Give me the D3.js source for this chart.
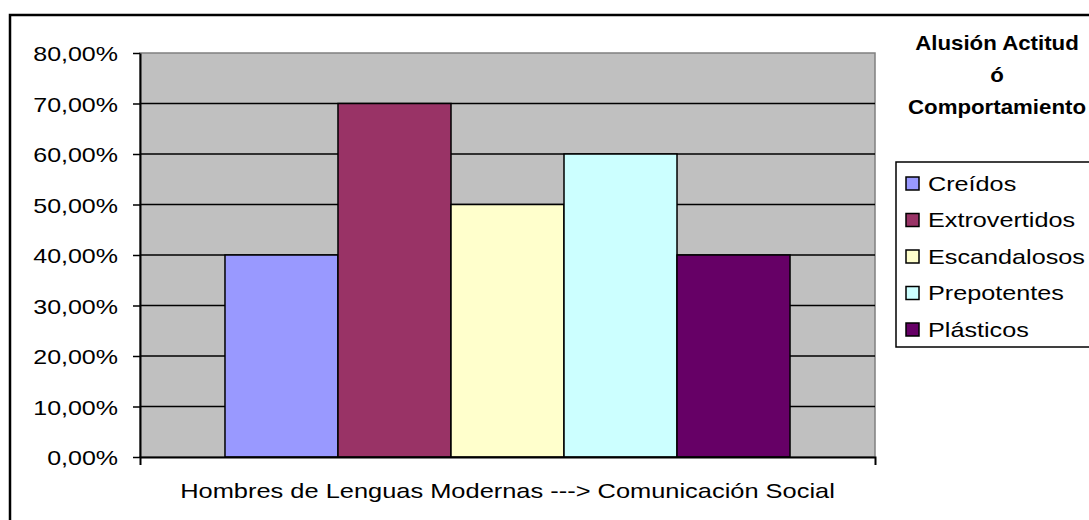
<!DOCTYPE html>
<html>
<head>
<meta charset="utf-8">
<script src="https://cdn.jsdelivr.net/npm/d3@7"></script>
<style>
  body { margin: 0; background: #fff; }
  text { font-family: "Liberation Sans", Arial, sans-serif; }
</style>
</head>
<body>
<div id="chart"></div>
<script>
var category = "Hombres de Lenguas Modernas ---> Comunicación Social";
var series = ["Creídos", "Extrovertidos", "Escandalosos", "Prepotentes", "Plásticos"];
var values = [0.40, 0.70, 0.50, 0.60, 0.40];
var colors = ["#9999FF", "#993366", "#FFFFCC", "#CCFFFF", "#660066"];
var yTicks = [0, 0.1, 0.2, 0.3, 0.4, 0.5, 0.6, 0.7, 0.8];
var yLabels = ["0,00%", "10,00%", "20,00%", "30,00%", "40,00%", "50,00%", "60,00%", "70,00%", "80,00%"];
var legendTitle = ["Alusión Actitud", "ó", "Comportamiento"];

var width = 1089, height = 520;
var plot = {left: 140, right: 875, top: 53, bottom: 457};

var svg = d3.select("#chart").append("svg")
    .attr("width", width)
    .attr("height", height);

// the original text is drawn a bit wider than Arial, so stretch it
function stretch(sel, f) {
    sel.each(function() {
        var w = this.getComputedTextLength();
        d3.select(this)
            .attr("textLength", w * f)
            .attr("lengthAdjust", "spacingAndGlyphs");
    });
}

// outer chart border (runs off the right and bottom edges)
svg.append("rect")
    .attr("x", 10).attr("y", 15)
    .attr("width", 1100).attr("height", 520)
    .attr("fill", "#fff")
    .attr("stroke", "#000")
    .attr("stroke-width", 2.5);

var y = d3.scaleLinear().domain([0, 0.8]).range([plot.bottom, plot.top]);

var x0 = d3.scaleBand().domain([category]).range([plot.left, plot.right]);

var x = d3.scaleBand()
    .domain(series)
    .range([plot.left, plot.right])
    .paddingInner(0)
    .paddingOuter(0.752);

// plot background
svg.append("rect")
    .attr("x", plot.left).attr("y", plot.top)
    .attr("width", plot.right - plot.left)
    .attr("height", plot.bottom - plot.top)
    .attr("fill", "#C0C0C0")
    .attr("stroke", "#808080")
    .attr("stroke-width", 1.5);

// gridlines
svg.selectAll("line.grid")
    .data(yTicks.filter(function(d) { return d > 0 && d < 0.8; }))
    .enter().append("line")
    .attr("class", "grid")
    .attr("x1", plot.left).attr("x2", plot.right)
    .attr("y1", function(d) { return y(d); })
    .attr("y2", function(d) { return y(d); })
    .attr("stroke", "#000")
    .attr("stroke-width", 1.5);

// bars
svg.selectAll("rect.bar")
    .data(values)
    .enter().append("rect")
    .attr("class", "bar")
    .attr("x", function(d, i) { return x(series[i]); })
    .attr("y", function(d) { return y(d); })
    .attr("width", x.bandwidth())
    .attr("height", function(d) { return y(0) - y(d); })
    .attr("fill", function(d, i) { return colors[i]; })
    .attr("stroke", "#000")
    .attr("stroke-width", 1.5);

// y axis
var yAxis = svg.append("g")
    .attr("transform", "translate(" + plot.left + ",0)")
    .call(d3.axisLeft(y)
        .tickValues(yTicks)
        .tickFormat(function(d, i) { return yLabels[i]; })
        .tickSize(7)
        .tickSizeOuter(0)
        .tickPadding(15));
yAxis.select(".domain").attr("stroke", "#000").attr("stroke-width", 2);
yAxis.selectAll(".tick line").attr("stroke", "#000").attr("stroke-width", 1.5);
yAxis.selectAll(".tick text")
    .attr("fill", "#000")
    .style("font-size", "21px")
    .attr("dy", "0.36em")
    .call(stretch, 1.19);

// x axis
var xAxis = svg.append("g")
    .attr("transform", "translate(0," + plot.bottom + ")")
    .call(d3.axisBottom(x0).tickSize(0).tickSizeOuter(8).tickPadding(26));
xAxis.select(".domain").attr("stroke", "#000").attr("stroke-width", 2);
xAxis.selectAll(".tick text")
    .attr("fill", "#000")
    .style("font-size", "21px")
    .call(stretch, 1.21);

// legend title
svg.selectAll("text.ltitle")
    .data(legendTitle)
    .enter().append("text")
    .attr("class", "ltitle")
    .attr("x", 997)
    .attr("y", function(d, i) { return 50 + i * 32; })
    .attr("text-anchor", "middle")
    .style("font-size", "21px")
    .style("font-weight", "bold")
    .text(function(d) { return d; })
    .call(stretch, 1.06);

// legend
var legend = svg.append("g");
legend.append("rect")
    .attr("x", 896).attr("y", 162)
    .attr("width", 220).attr("height", 185)
    .attr("fill", "#fff")
    .attr("stroke", "#000")
    .attr("stroke-width", 1.5);

var items = legend.selectAll("g.item")
    .data(series)
    .enter().append("g")
    .attr("class", "item")
    .attr("transform", function(d, i) { return "translate(906," + (183 + i * 36.5) + ")"; });

items.append("rect")
    .attr("x", 0).attr("y", -6)
    .attr("width", 13).attr("height", 13)
    .attr("fill", function(d, i) { return colors[i]; })
    .attr("stroke", "#000")
    .attr("stroke-width", 1.5);

items.append("text")
    .attr("x", 22).attr("y", 7.5)
    .style("font-size", "21px")
    .text(function(d) { return d; })
    .call(stretch, 1.2);
</script>
</body>
</html>
